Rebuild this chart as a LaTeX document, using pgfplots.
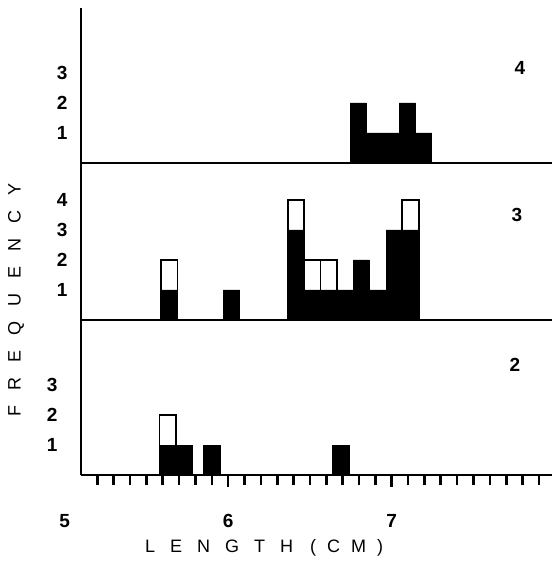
\documentclass[border=0pt]{standalone}
\usepackage{fontspec}
\setmainfont{Liberation Sans}
\usepackage{pgfplots}
\pgfplotsset{compat=1.18}
\newcommand{\numfont}{\fontsize{19}{22}\selectfont\bfseries}
\newcommand{\txtfont}{\fontsize{18}{21}\selectfont}
\begin{document}
\begin{tikzpicture}
\useasboundingbox (-81pt,-95pt) rectangle (474pt,475pt);
\pgfplotsset{
  panel/.style={
    scale only axis, width=471pt,
    xmin=5.1, xmax=7.98, ymin=0,
    enlargelimits=false,
    axis x line=bottom, axis y line=left,
    axis line style={-, line width=2.6pt, black},
    ytick style={draw=none},
    yticklabel style={xshift=-8pt},
    tick label style={font=\numfont},
    /pgf/number format/assume math mode=true,
    clip=false,
  },
  openbar/.style={ybar, bar width=0.1, bar shift=0pt, fill=white, draw=black, line width=1.8pt},
  fullbar/.style={ybar, bar width=0.1, bar shift=0pt, fill=black, draw=black, line width=0.8pt},
}
% ---------- panel 2 (bottom) ----------
\begin{axis}[panel, at={(0pt,0pt)}, anchor=south west,
  height=155pt, ymax=5.167,
  ytick={1,2,3},
  xtick={6,7}, minor xtick={5.2,5.3,5.4,5.5,5.6,5.7,5.8,5.9,6.1,6.2,6.3,6.4,6.5,6.6,6.7,6.8,6.9,7.1,7.2,7.3,7.4,7.5,7.6,7.7,7.8,7.9},
  tick align=outside,
  major tick length=12pt, minor tick length=10pt,
  xtick style={line width=2.6pt, black},
  minor tick style={line width=2.6pt, black},
  xticklabel style={yshift=-24pt},
]
\addplot[openbar] coordinates {(5.63,2)};
\addplot[fullbar] coordinates {(5.63,1) (5.73,1) (5.90,1) (6.69,1)};
\node[font=\numfont, anchor=north, yshift=-36pt] at (axis cs:5,0) {5};
\node[font=\txtfont, yshift=-73pt] at (axis cs:6.22,0)
  {L\hspace{15pt}E\hspace{15pt}N\hspace{15pt}G\hspace{15pt}T\hspace{15pt}H\hspace{17pt}(\hspace{11pt}C\hspace{11pt}M\hspace{11pt})};
\end{axis}
% ---------- panel 3 (middle) ----------
\begin{axis}[panel, at={(0pt,155pt)}, anchor=south west,
  height=157pt, ymax=5.233,
  ytick={1,2,3,4}, xtick=\empty,
]
\addplot[openbar] coordinates {(5.64,2) (6.415,4) (6.515,2) (6.615,2) (7.115,4)};
\addplot[fullbar] coordinates {(5.64,1) (6.02,1) (6.415,3) (6.515,1) (6.615,1) (6.715,1) (6.815,2) (6.915,1) (7.015,3) (7.115,3)};
\end{axis}
% ---------- panel 4 (top) ----------
\begin{axis}[panel, at={(0pt,312pt)}, anchor=south west,
  height=155pt, ymax=5.167,
  ytick={1,2,3}, xtick=\empty,
]
\addplot[fullbar] coordinates {(6.795,2) (6.895,1) (6.995,1) (7.095,2) (7.195,1)};
\end{axis}
% panel numbers and y label
\node[font=\numfont] at (439pt,407pt) {4};
\node[font=\numfont] at (436pt,260pt) {3};
\node[font=\numfont] at (434pt,110pt) {2};
\node[font=\txtfont, rotate=90] at (-65pt,175pt)
  {F\hspace{15pt}R\hspace{15pt}E\hspace{15pt}Q\hspace{15pt}U\hspace{15pt}E\hspace{15pt}N\hspace{15pt}C\hspace{15pt}Y};
\end{tikzpicture}
\end{document}
